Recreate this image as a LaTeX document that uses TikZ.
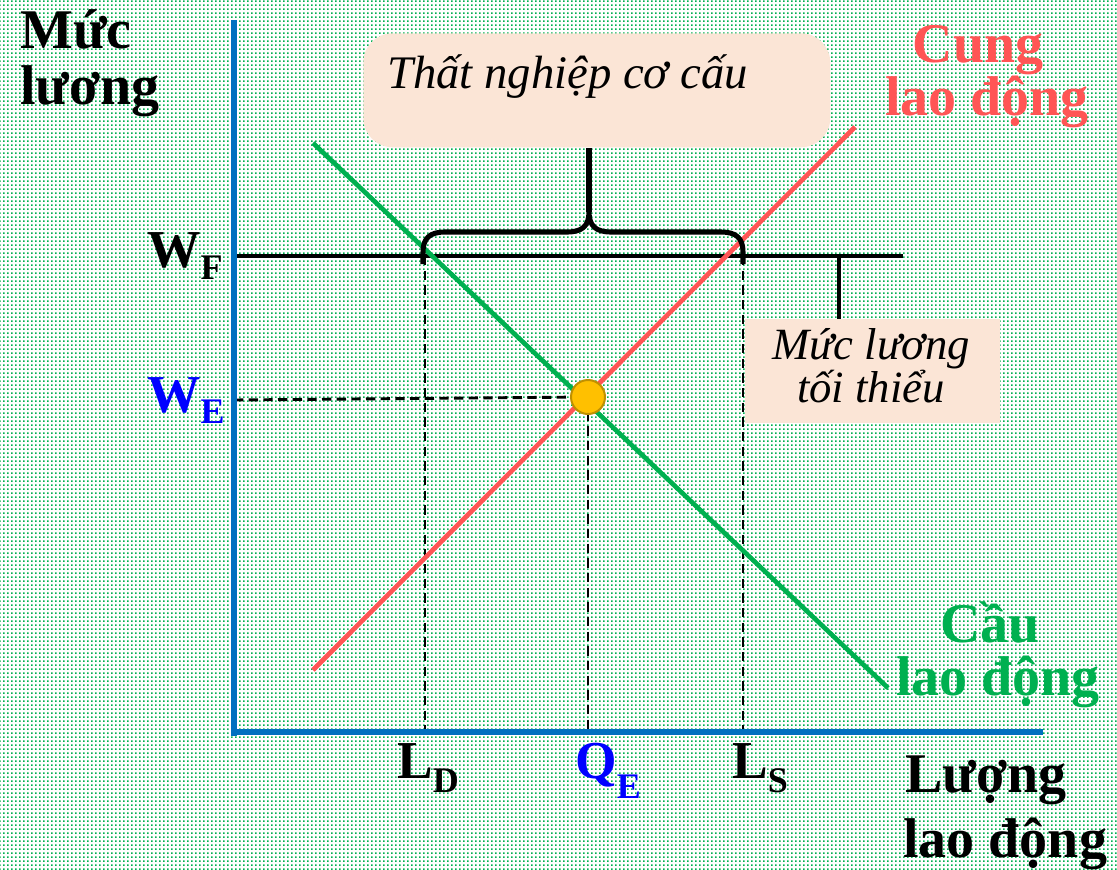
\documentclass[tikz,border=0pt]{standalone}
\usepackage{fontspec}
\setmainfont{Liberation Serif}
\usetikzlibrary{patterns,patterns.meta}
\definecolor{dotgreen}{HTML}{00B050}
\definecolor{axisblue}{HTML}{0070C0}
\definecolor{supred}{HTML}{FF5555}
\definecolor{demgreen}{HTML}{00B050}
\definecolor{boxfill}{HTML}{FBE5D6}
\definecolor{eqfill}{HTML}{FFC000}
\definecolor{eqdraw}{HTML}{BF9000}
\definecolor{pureblue}{HTML}{0000FF}
\pgfdeclarepattern{
  name=bgdots,
  type=uncolored,
  bottom left={\pgfpointorigin},
  top right={\pgfpoint{3pt}{3pt}},
  tile size={\pgfpoint{3pt}{3pt}},
  code={\pgfpathrectangle{\pgfpointorigin}{\pgfpoint{1.5pt}{1.5pt}}\pgfusepath{fill}}
}
\tikzset{
  axislab/.style={inner sep=0pt, font=\bfseries\fontsize{42}{44}\selectfont},
  ticklab/.style={inner sep=0pt, font=\bfseries\fontsize{40}{40}\selectfont},
  boxtext/.style={inner sep=0pt, font=\itshape\fontsize{35}{35}\selectfont},
  smalltext/.style={inner sep=0pt, align=center, font=\itshape\fontsize{33.5}{30}\selectfont},
  axisline/.style={draw=axisblue, line width=5pt},
  guide/.style={draw=black, line width=2.2pt, dash pattern=on 7pt off 4pt},
  wageline/.style={draw=black, line width=3.5pt},
  curve/.style={line width=3.5pt},
  bracestyle/.style={draw=black, line width=3.8pt, line join=round},
}
\newcommand{\subdrop}[2]{\raisebox{-#1}{\fontsize{27}{27}\selectfont #2}}
\begin{document}
\begin{tikzpicture}[x=0.75pt, y=-0.75pt]
\useasboundingbox (0,0) rectangle (1117,869);
\fill[white] (0,0) rectangle (1117,869);
\fill[pattern=bgdots, pattern color=dotgreen] (0,0) rectangle (1117,869);

% key coordinates
\coordinate (O) at (234,732);
\coordinate (ytop) at (234,20);
\coordinate (xend) at (1043,732);
\coordinate (wfL) at (234,256);
\coordinate (wfR) at (903,256);
\coordinate (tickTop) at (839,256);
\coordinate (weL) at (234,400);
\coordinate (eq) at (588,397);
\coordinate (ldTop) at (425,256);
\coordinate (ldBot) at (425,732);
\coordinate (lsTop) at (743,256);
\coordinate (lsBot) at (743,732);
\coordinate (qeBot) at (588,732);
\coordinate (dTop) at (313,143);
\coordinate (dBot) at (888,688);
\coordinate (sBot) at (313,670);
\coordinate (sTop) at (855,127);

% boxes
\node[boxtext, fill=boxfill, rounded corners=22pt, minimum width=467*0.75pt, minimum height=114*0.75pt, anchor=north west] (tnbox) at (363,33) {};
\node[boxtext, anchor=base west] (tntext) at (387,88) {Thất nghiệp cơ cấu};
\node[fill=boxfill, inner sep=0pt, minimum width=255*0.75pt, minimum height=104*0.75pt, anchor=north west] (mlbox) at (745,319) {};
\node[smalltext, anchor=center] (ml) at (871,366) {Mức lương\\tối thiểu};

% guides
\draw[guide] (ldTop) -- (ldBot);
\draw[guide] (lsTop) -- (lsBot);
\draw[guide] (weL) -- (eq);
\draw[guide] (eq) -- (qeBot);

% wage floor
\draw[wageline] (wfL) -- (wfR);
\draw[wageline] (tickTop) -- (mlbox.north -| tickTop);

% curves
\draw[curve, demgreen] (dTop) -- (dBot);
\draw[curve, supred] (sBot) -- (sTop);

% brace
\coordinate (brL) at (423,264);
\coordinate (brR) at (743,264);
\coordinate (brTip) at (589,212);
\draw[bracestyle] (brL) -- (423,252) .. controls (423,238) and (430,232) .. (445,232) -- (567,232) .. controls (582,232) and (589,226) .. (brTip) .. controls (589,226) and (596,232) .. (611,232) -- (721,232) .. controls (736,232) and (743,238) .. (743,252) -- (brR);
\draw[bracestyle] (brTip) -- (tnbox.south -| brTip);

% axes
\draw[axisline] (ytop) -- (234,736);
\draw[axisline] (231,732) -- (xend);

% equilibrium
\node[circle, fill=eqfill, draw=eqdraw, line width=1.5pt, minimum size=34*0.75pt, inner sep=0pt] (eqdot) at (eq) {};

% axis labels
\node[axislab, anchor=base west] (yl1) at (20,48) {Mức};
\node[axislab, anchor=base west] (yl2) at (20,104) {lương};
\node[axislab, anchor=base west] (xl1) at (905,792) {Lượng};
\node[axislab, anchor=base west] (xl2) at (903,857) {lao động};
\node[axislab, anchor=base, text=supred] (sl1) at (978,62) {Cung};
\node[axislab, anchor=base, text=supred] (sl2) at (987,115) {lao động};
\node[axislab, anchor=base, text=demgreen] (dl1) at (990,642) {Cầu};
\node[axislab, anchor=base, text=demgreen] (dl2) at (998,695) {lao động};

% tick labels
\node[ticklab, anchor=base west] (wf) at (147,267) {W\subdrop{9.5pt}{F}};
\node[ticklab, anchor=base west, text=pureblue] (we) at (147,412) {W\subdrop{8.5pt}{E}};
\node[ticklab, anchor=base west] (ld) at (397,778) {L\subdrop{10.5pt}{D}};
\node[ticklab, anchor=base west, text=pureblue] (qe) at (575,778) {Q\subdrop{15pt}{E}};
\node[ticklab, anchor=base west] (ls) at (732,778) {L\subdrop{10.5pt}{S}};
\end{tikzpicture}
\end{document}
